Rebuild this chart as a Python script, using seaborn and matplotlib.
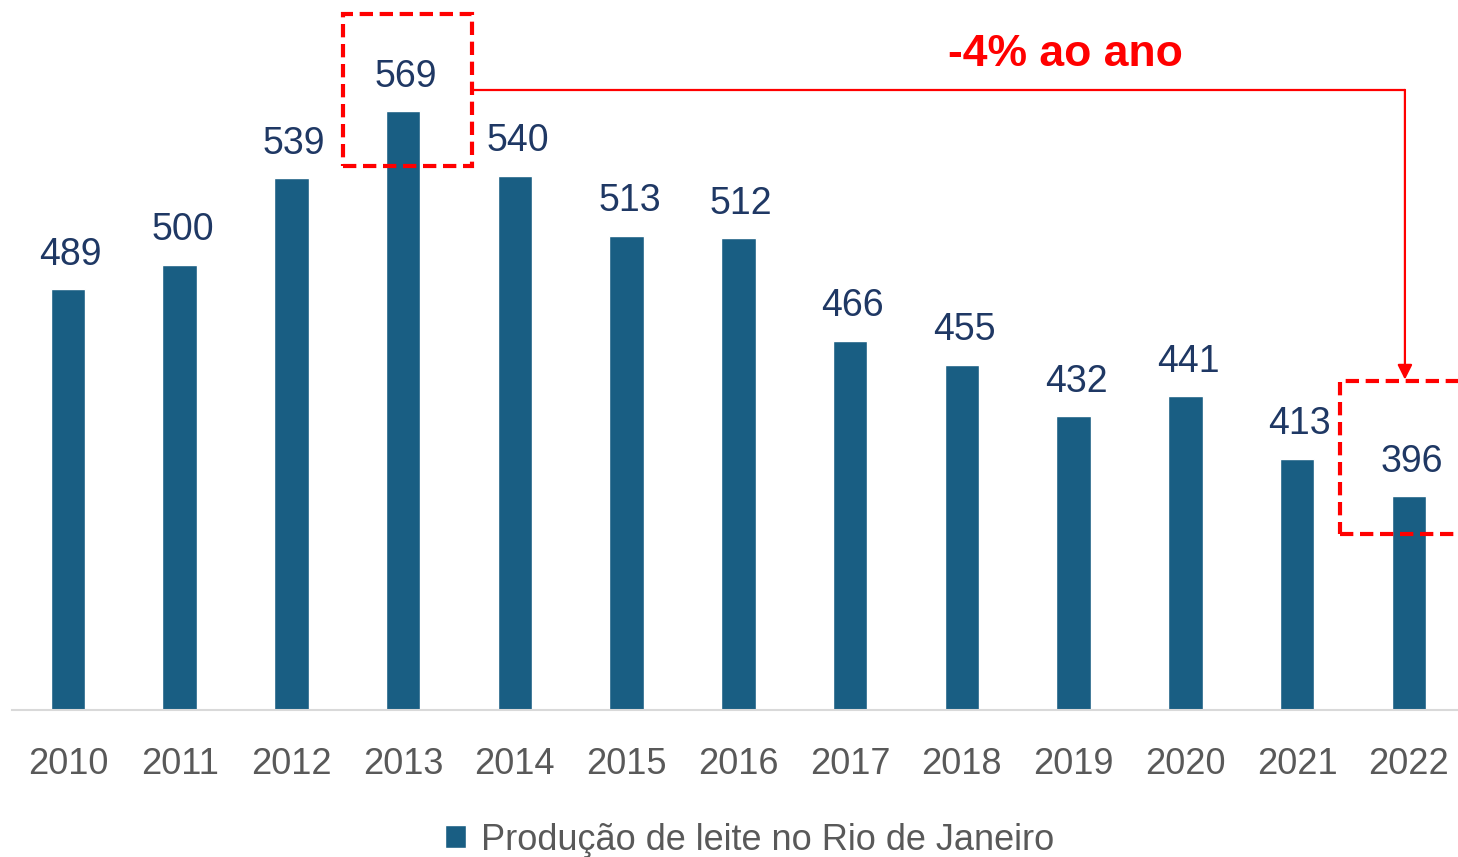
import pandas as pd
import seaborn as sns
import matplotlib.pyplot as plt
from matplotlib.patches import Rectangle, Patch

# dados
anos = ['2010', '2011', '2012', '2013', '2014', '2015', '2016',
        '2017', '2018', '2019', '2020', '2021', '2022']
producao = [489, 500, 539, 569, 540, 513, 512, 466, 455, 432, 441, 413, 396]
serie = 'Produção de leite no Rio de Janeiro'
taxa = '-4% ao ano'

df = pd.DataFrame({'ano': anos, 'producao': producao})

sns.set_style('white')
plt.rcParams['font.family'] = ['Liberation Sans', 'DejaVu Sans']

cor_barra = '#195E83'
cor_rotulo = '#1F3864'
cor_eixo = '#595959'
vermelho = '#FF0000'

fig = plt.figure(figsize=(14.58, 8.57), dpi=100)
ax = fig.add_axes([12 / 1458, 147 / 857, 1446 / 1458, 700 / 857])

sns.barplot(data=df, x='ano', y='producao', color=cor_barra, width=0.31,
            saturation=1, ax=ax)

ax.set_ylim(300, 300 + 700 / 2.225)
ax.set_xlim(-0.5, 12.44)
ax.set_xlabel('')
ax.set_ylabel('')
ax.set_yticks([])
for lado in ['top', 'right', 'left']:
    ax.spines[lado].set_visible(False)
ax.spines['bottom'].set_color('#D9D9D9')
ax.spines['bottom'].set_linewidth(1.5)
ax.tick_params(axis='x', length=0, pad=27, labelsize=26, labelcolor=cor_eixo)

# rótulos de dados
for i, v in enumerate(producao):
    ax.annotate(str(v), (i, v), xytext=(2, 12), textcoords='offset points',
                ha='center', va='bottom', fontsize=27, color=cor_rotulo)

# destaques
estilo = dict(fill=False, edgecolor=vermelho, linewidth=3,
              linestyle=(0, (3.2, 1.6)), clip_on=False, zorder=5)
ax.add_patch(Rectangle((2.46, 544.5), 1.155, 68.3, **estilo))
ax.add_patch(Rectangle((11.38, 379.1), 1.5, 68.8, **estilo))

ax.plot([3.615, 11.965], [578.7, 578.7], color=vermelho, lw=1.6,
        clip_on=False, zorder=5)
ax.annotate('', xy=(11.965, 448.5), xytext=(11.965, 578.7),
            arrowprops=dict(arrowstyle='-|>', color=vermelho, lw=1.6,
                            mutation_scale=22, shrinkA=0, shrinkB=0),
            annotation_clip=False, zorder=5)
ax.text(8.93, 594.4, taxa, ha='center', va='center', fontsize=32,
        fontweight='bold', color=vermelho)

# legenda
leg = fig.legend(handles=[Patch(facecolor=cor_barra, label=serie)],
                 loc='center', bbox_to_anchor=(0.514, 1 - 840 / 857),
                 frameon=False, handlelength=0.6, handleheight=0.6,
                 handletextpad=0.4, prop={'size': 26})
for t in leg.get_texts():
    t.set_color(cor_eixo)

plt.savefig('out.png', dpi=100)
